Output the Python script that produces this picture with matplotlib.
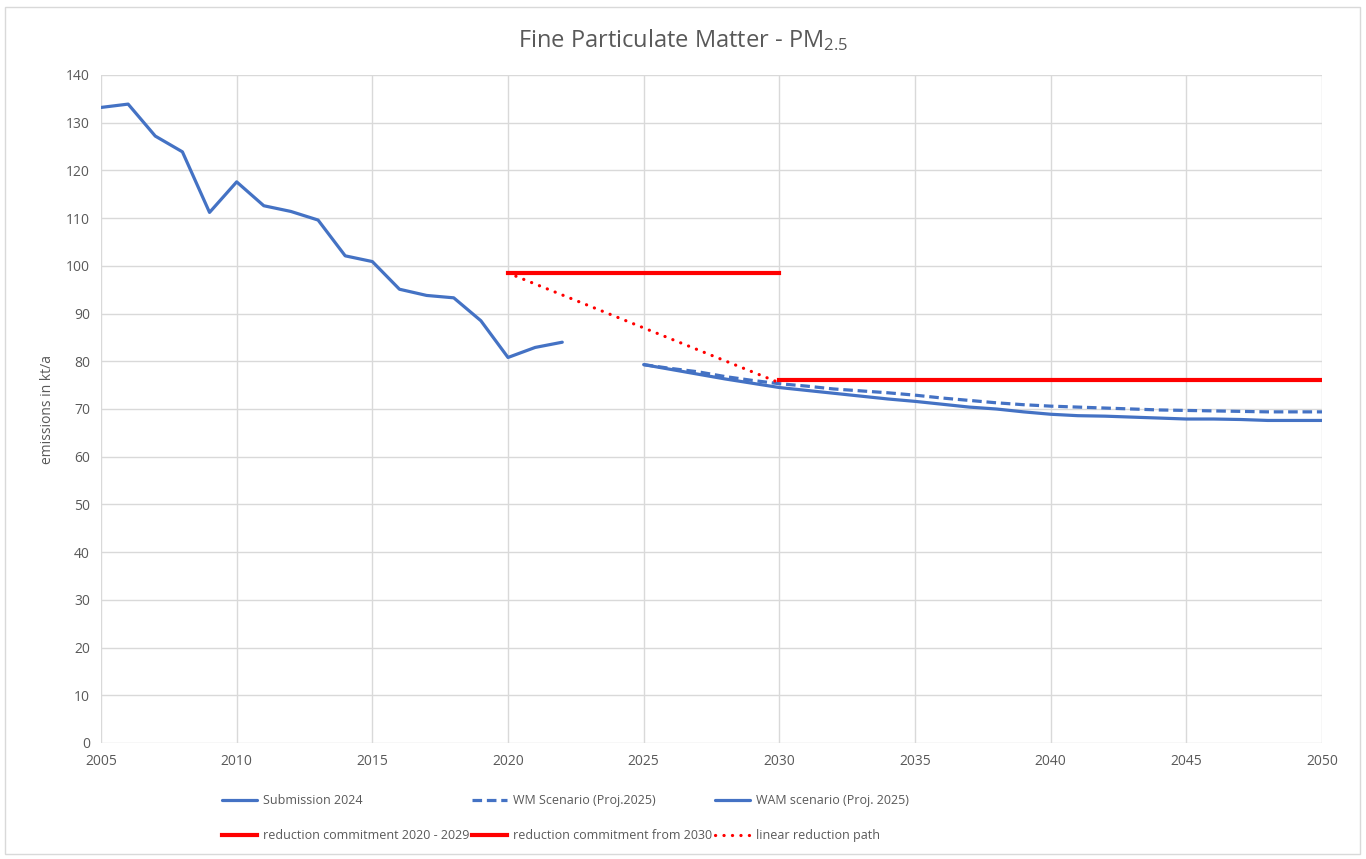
import matplotlib
matplotlib.use("Agg")
import matplotlib.pyplot as plt
from matplotlib.patches import Rectangle

plt.rcParams['font.family'] = ['Open Sans', 'DejaVu Sans']
plt.rcParams['mathtext.default'] = 'regular'

# Data
hist_years = list(range(2005, 2023))
submission_2024 = [133.2, 133.9, 127.2, 123.9, 111.2, 117.6, 112.6, 111.4, 109.6, 102.1,
                   100.9, 95.1, 93.8, 93.3, 88.5, 80.8, 82.9, 84.0]
proj_years = list(range(2025, 2051))
wm_scenario = [79.3, 78.5, 77.8, 76.8, 76.0, 75.3, 74.8, 74.2, 73.8, 73.4,
               72.9, 72.3, 71.8, 71.3, 70.9, 70.6, 70.4, 70.2, 70.0, 69.8,
               69.7, 69.6, 69.5, 69.4, 69.4, 69.4]
wam_scenario = [79.3, 78.3, 77.3, 76.3, 75.4, 74.5, 73.9, 73.3, 72.7, 72.1,
                71.6, 71.0, 70.4, 70.0, 69.4, 68.9, 68.6, 68.5, 68.3, 68.1,
                67.9, 67.9, 67.8, 67.6, 67.6, 67.6]
commit_2020_years = [2020, 2030]
commit_2020_values = [98.5, 98.5]
commit_2030_years = [2030, 2050]
commit_2030_values = [76.0, 76.0]
linear_years = [2020, 2030]
linear_values = [98.5, 75.5]

labels = ["Submission 2024", "WM Scenario (Proj.2025)", "WAM scenario (Proj. 2025)",
          "reduction commitment 2020 - 2029", "reduction commitment from 2030",
          "linear reduction path"]

blue = "#4472C4"
red = "#FF0000"
grey_text = "#595959"
grid_c = "#D9D9D9"

fig = plt.figure(figsize=(13.66, 8.59), dpi=100)
ax = fig.add_axes([101/1366, 1 - 743/859, (1322-101)/1366, (743-75)/859])

l1, = ax.plot(hist_years, submission_2024, color=blue, lw=2.3, solid_capstyle='round', solid_joinstyle='round')
l2, = ax.plot(proj_years, wm_scenario, color=blue, lw=2.3, ls=(0, (3, 1.5)))
l3, = ax.plot(proj_years, wam_scenario, color=blue, lw=2.3, solid_capstyle='round')
l4, = ax.plot(commit_2020_years, commit_2020_values, color=red, lw=3)
l5, = ax.plot(commit_2030_years, commit_2030_values, color=red, lw=3)
l6, = ax.plot(linear_years, linear_values, color=red, lw=2.3, ls=(0, (0.05, 2.6)), dash_capstyle='round')

ax.set_xlim(2005, 2050)
ax.set_ylim(0, 140)
ax.set_xticks(range(2005, 2051, 5))
ax.set_yticks(range(0, 141, 10))
ax.grid(True, color=grid_c, lw=1)
ax.set_axisbelow(True)
for s in ax.spines.values():
    s.set_visible(False)
ax.tick_params(length=0, labelsize=10, labelcolor=grey_text, pad=8)
ax.set_ylabel("emissions in kt/a", fontsize=10, color=grey_text, labelpad=8)

fig.text(0.5, 1 - 40/859, "Fine Particulate Matter - PM$_{2.5}$", ha='center', va='center',
         fontsize=17, color=grey_text)

handles = [l1, l4, l2, l5, l3, l6]
hl = [labels[0], labels[3], labels[1], labels[4], labels[2], labels[5]]
leg = fig.legend(handles, hl, ncol=3, loc='upper left', bbox_to_anchor=(222/1366, 1 - 794/859),
                 frameon=False, fontsize=9, handlelength=2.8, handletextpad=0.45,
                 columnspacing=0.25, labelspacing=1.75, borderpad=0, borderaxespad=0)
for t in leg.get_texts():
    t.set_color(grey_text)

fig.patches.append(Rectangle((5/1366, 5/859), 1355/1366, 847/859, transform=fig.transFigure,
                             fill=False, edgecolor="#D9D9D9", lw=1))

fig.savefig("out.png", dpi=100)
